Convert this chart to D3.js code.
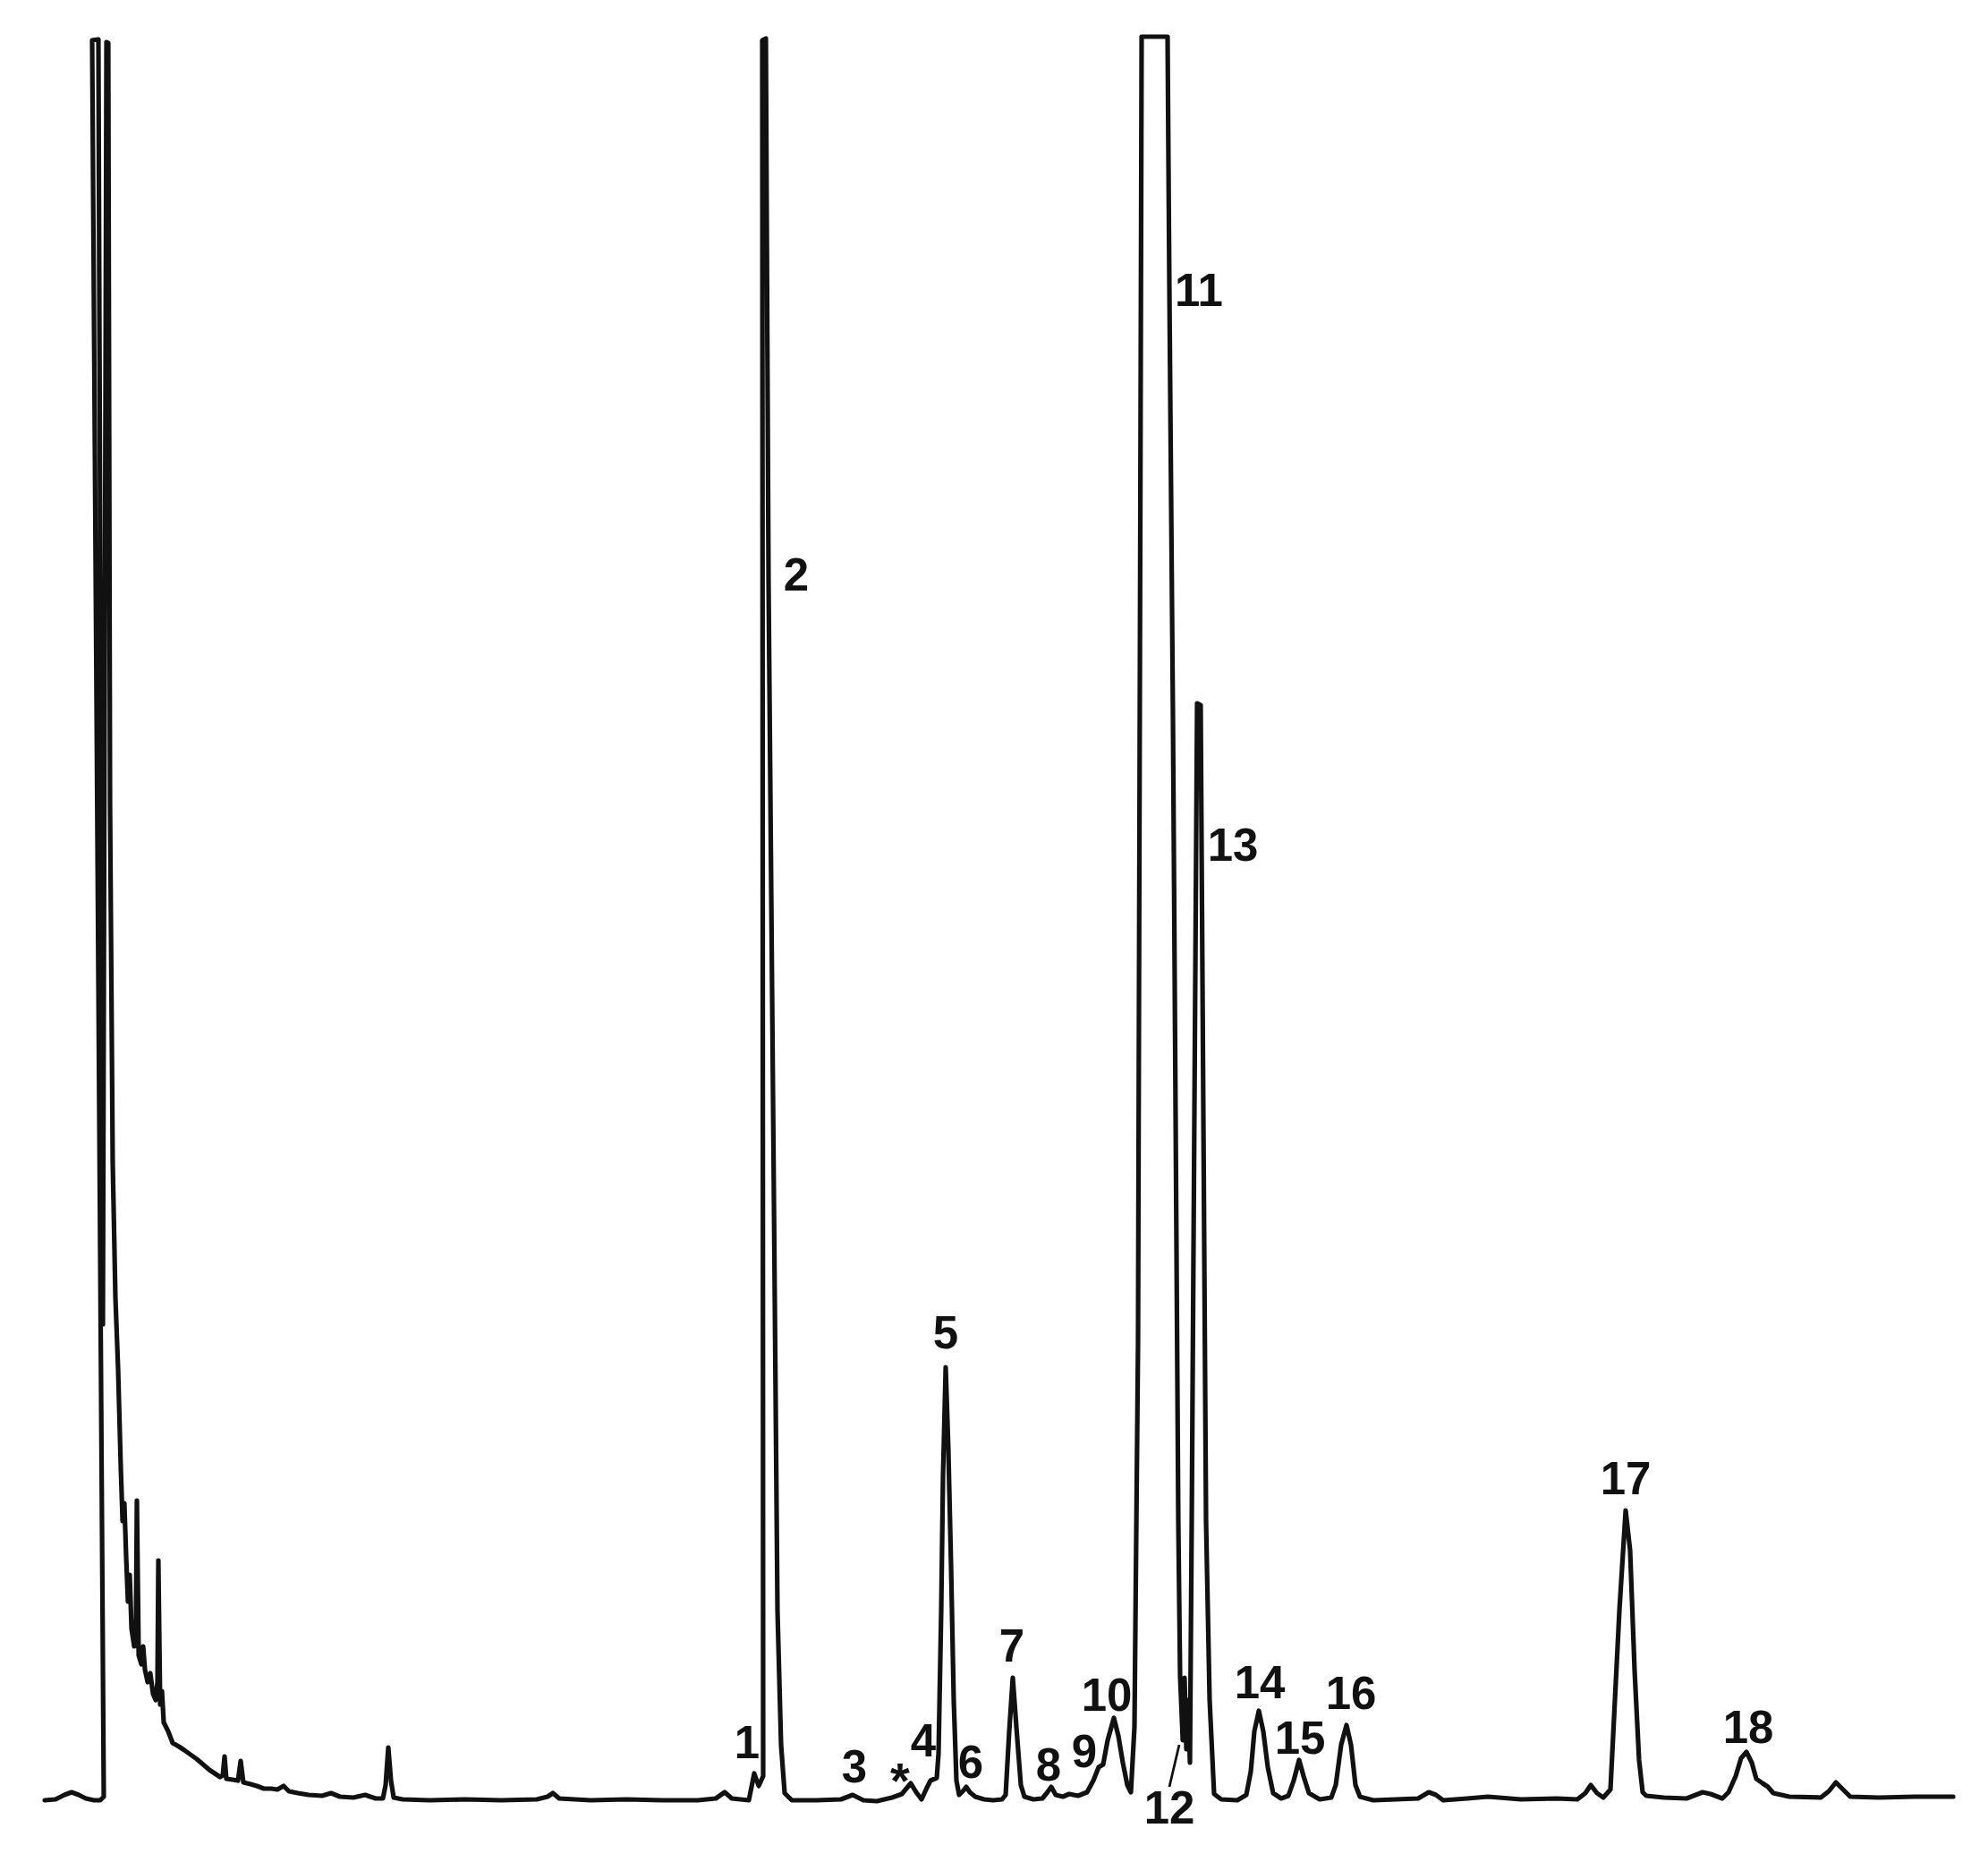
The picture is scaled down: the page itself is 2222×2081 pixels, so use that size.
<!DOCTYPE html>
<html>
<head>
<meta charset="utf-8">
<script src="https://cdn.jsdelivr.net/npm/d3@7"></script>
<style>
    body { margin: 0; background: #fff; }
</style>
</head>
<body>
<div id="chart"></div>
<script>
var width = 2222, height = 2081;

// retention time (min) of each vertex of the recorder trace
var traceTime = [
    0.00, 0.24, 0.44, 0.60, 0.76, 0.92, 1.10, 1.24, 1.32, 1.06, 1.20, 1.30, 1.38, 1.42, 1.46, 1.52,
    1.58, 1.64, 1.70, 1.74, 1.78, 1.82, 1.86, 1.90, 1.94, 2.00, 2.04, 2.06, 2.10, 2.16, 2.20, 2.24,
    2.30, 2.36, 2.42, 2.48, 2.52, 2.54, 2.58, 2.62, 2.66, 2.76, 2.86, 3.00, 3.12, 3.26, 3.40, 3.54,
    3.68, 3.80, 3.92, 3.98, 4.02, 4.06, 4.20, 4.32, 4.38, 4.44, 4.60, 4.74, 4.90, 5.06, 5.20, 5.34,
    5.46, 5.66, 5.90, 6.20, 6.40, 6.60, 6.90, 7.16, 7.40, 7.56, 7.62, 7.68, 7.74, 7.80, 8.00, 8.60,
    9.40, 10.20, 11.00, 11.24, 11.36, 11.50, 12.20, 13.00, 13.80, 14.60, 15.00, 15.20, 15.36, 15.74,
    15.86, 15.96, 16.06, 16.04, 16.12, 16.18, 16.38, 16.46, 16.54, 16.70, 17.26, 17.80, 18.06, 18.30,
    18.60, 18.94, 19.16, 19.36, 19.48, 19.60, 19.72, 19.80, 19.94, 19.98, 20.04, 20.08, 20.14, 20.20,
    20.26, 20.32, 20.38, 20.44, 20.54, 20.60, 20.68, 20.80, 21.00, 21.20, 21.40, 21.48, 21.56, 21.64,
    21.72, 21.82, 21.90, 22.10, 22.30, 22.40, 22.50, 22.60, 22.76, 22.90, 23.10, 23.30, 23.44, 23.56,
    23.66, 23.76, 23.90, 24.00, 24.10, 24.20, 24.28, 24.36, 24.44, 24.52, 25.10, 25.14, 25.22, 25.34,
    25.38, 25.44, 25.48, 25.52, 25.56, 25.60, 25.64, 25.76, 25.84, 25.96, 26.04, 26.14, 26.30, 26.66,
    26.86, 26.96, 27.04, 27.14, 27.24, 27.34, 27.46, 27.64, 27.80, 27.92, 28.04, 28.14, 28.26, 28.50,
    28.76, 28.86, 28.98, 29.10, 29.20, 29.30, 29.40, 29.70, 30.20, 30.70, 30.94, 31.10, 31.26, 31.80,
    32.26, 33.00, 33.80, 34.26, 34.44, 34.56, 34.70, 34.84, 35.00, 35.10, 35.20, 35.34, 35.44, 35.54,
    35.64, 35.72, 35.80, 36.20, 36.70, 36.96, 37.06, 37.24, 37.50, 37.64, 37.80, 37.92, 38.04, 38.16,
    38.26, 38.40, 38.52, 38.64, 39.00, 39.70, 39.88, 40.04, 40.20, 40.36, 41.00, 41.80, 42.66
];

// detector signal (mV) at each vertex; off-scale peaks are clipped near 197
var traceSignal = [
    -0.2, -0.1, 0.4, 0.7, 0.4, 0.0, -0.2, -0.2, 0.2, 196.5, 196.6, 53.0, 196.3, 196.2, 111.0, 71.0,
    56.0, 48.0, 37.0, 31.0, 33.0, 27.0, 22.0, 25.0, 19.0, 17.0, 20.0, 33.3, 16.0, 15.0, 17.0, 14.4,
    13.0, 14.0, 11.7, 11.0, 13.0, 26.6, 10.5, 12.0, 8.5, 7.5, 6.2, 5.8, 5.4, 4.9, 4.4, 3.8,
    3.2, 2.8, 2.4, 2.6, 4.7, 2.2, 2.1, 2.0, 4.2, 1.8, 1.6, 1.4, 1.1, 1.1, 1.0, 1.4,
    0.8, 0.6, 0.4, 0.3, 0.6, 0.2, 0.1, 0.4, 0.0, 0.0, 1.5, 5.7, 2.0, 0.1, -0.1, -0.2,
    -0.1, -0.2, -0.1, 0.2, 0.6, 0.0, -0.2, -0.1, -0.2, -0.2, 0.0, 0.7, 0.0, -0.2,
    2.8, 1.4, 2.5, 196.5, 196.7, 136.0, 21.0, 6.0, 0.6, -0.2, -0.2, -0.1, 0.4, -0.2,
    -0.3, 0.1, 0.5, 1.7, 0.7, -0.1, 1.2, 2.0, 2.3, 5.0, 21.0, 36.0, 48.2, 39.0,
    26.0, 11.0, 2.0, 0.4, 0.9, 1.3, 0.7, 0.2, -0.1, -0.2, -0.1, 0.4, 7.5, 13.5,
    8.0, 1.5, 0.2, -0.1, 0.0, 0.6, 1.3, 0.4, 0.2, 0.5, 0.3, 0.7, 2.0, 3.5,
    3.8, 6.5, 9.0, 7.0, 4.0, 1.5, 0.7, 8.0, 51.0, 196.9, 196.9, 169.0, 121.0, 31.0,
    13.7, 6.5, 13.5, 5.5, 11.0, 4.0, 31.0, 122.4, 122.2, 31.0, 11.0, 0.5, -0.1, -0.2,
    0.4, 3.0, 7.5, 9.8, 7.5, 3.5, 0.6, 0.0, 0.3, 2.0, 4.3, 2.5, 0.6, -0.1,
    0.1, 1.5, 6.0, 8.2, 6.0, 1.5, 0.2, -0.2, -0.1, 0.0, 0.7, 0.4, -0.2, 0.0,
    0.2, -0.1, 0.0, -0.1, 0.6, 1.5, 0.6, 0.1, 1.0, 11.0, 21.0, 32.2, 27.7, 14.3,
    4.3, 0.7, 0.3, 0.1, 0.0, 0.5, 0.7, 0.5, 0.0, 0.7, 2.5, 4.5, 5.2, 4.0,
    2.2, 1.7, 1.3, 0.6, 0.2, 0.1, 0.8, 1.8, 1.0, 0.2, 0.1, 0.2, 0.2
];

// peak numbers and where they are written (time, signal of text baseline)
var peakNames  = ["1", "2", "3", "4", "5", "6", "7", "8", "9", "10", "11", "12", "13", "14", "15", "16", "17", "18"];
var peakTime   = [15.70, 16.80, 18.10, 19.64, 20.14, 20.70, 21.62, 22.44, 23.24, 23.74, 25.80, 25.14, 26.56, 27.16, 28.06, 29.20, 35.34, 38.08];
var peakSignal = [4.5, 135.0, 1.8, 4.7, 50.3, 2.3, 15.3, 2.0, 3.5, 9.8, 166.8, -2.8, 104.8, 11.2, 5.0, 10.0, 34.0, 6.2];

// artefact mark beside peak 4
var starTime = 19.12, starSignal = 0.1;

// leader line from label 12 to its peak
var leaderTime = [25.36, 25.14];
var leaderSignal = [6.0, 1.3];

var data = traceTime.map(function (t, i) { return { t: t, s: traceSignal[i] }; });

var x = d3.scaleLinear().domain([0, 42.6]).range([50, 2180]);
var y = d3.scaleLinear().domain([0, 200]).range([2010, 10]);

var svg = d3.select("#chart")
    .append("svg")
    .attr("width", width)
    .attr("height", height)
    .style("background", "#fff");

var line = d3.line()
    .x(function (d) { return x(d.t); })
    .y(function (d) { return y(d.s); });

svg.append("path")
    .datum(data)
    .attr("fill", "none")
    .attr("stroke", "#111")
    .attr("stroke-width", 5.2)
    .attr("stroke-linejoin", "round")
    .attr("stroke-linecap", "round")
    .attr("d", line);

svg.append("line")
    .attr("x1", x(leaderTime[0]))
    .attr("y1", y(leaderSignal[0]))
    .attr("x2", x(leaderTime[1]))
    .attr("y2", y(leaderSignal[1]))
    .attr("stroke", "#111")
    .attr("stroke-width", 2.8);

svg.selectAll("text.peak")
    .data(peakNames)
    .enter()
    .append("text")
    .attr("class", "peak")
    .attr("x", function (d, i) { return x(peakTime[i]); })
    .attr("y", function (d, i) { return y(peakSignal[i]); })
    .attr("text-anchor", "middle")
    .attr("font-family", "'Liberation Sans', Arial, sans-serif")
    .attr("font-weight", "bold")
    .attr("font-size", 51)
    .attr("fill", "#111")
    .text(function (d) { return d; });

svg.append("text")
    .attr("x", x(starTime))
    .attr("y", y(starSignal))
    .attr("text-anchor", "middle")
    .attr("font-family", "'Liberation Sans', Arial, sans-serif")
    .attr("font-weight", "bold")
    .attr("font-size", 56)
    .attr("fill", "#111")
    .text("*");
</script>
</body>
</html>
